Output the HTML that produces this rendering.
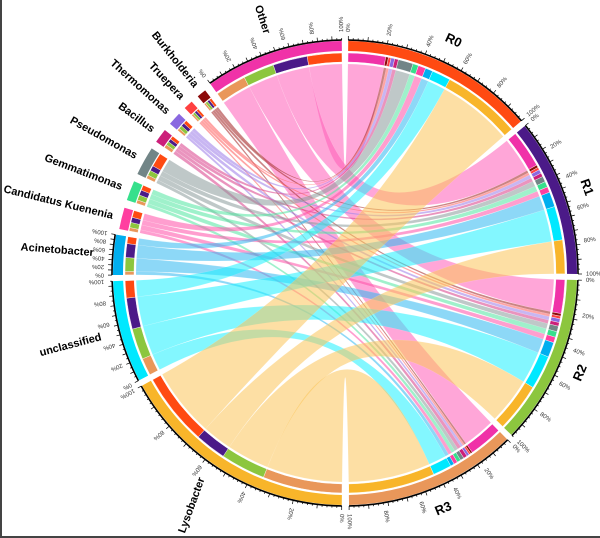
<!DOCTYPE html>
<html><head><meta charset="utf-8"><style>
html,body{margin:0;padding:0;background:#fff}
#w{width:600px;height:538px;box-sizing:border-box;border:2px solid #444;border-top:none;border-right:none;overflow:hidden}
svg{display:block}
</style></head><body><div id="w"><svg id="s" width="598" height="536" xmlns="http://www.w3.org/2000/svg"></svg></div>
<script>
const CX=343,CY=273;
const names=['R0','R1','R2','R3','Lysobacter','unclassified','Acinetobacter','Candidatus Kuenenia','Gemmatimonas','Pseudomonas','Bacillus','Thermomonas','Truepera','Burkholderia','Other'];
const col=['#ff4a12','#4b1a88','#8cc63e','#e9975a','#f8b52a','#00e8ff','#00aeef','#ff3fa0','#36e08c','#728587','#cc1f7a','#8a68e0','#ff4040','#8b0a0a','#f032a8'];
const rib=['#ff4a12','#4b1a88','#8cc63e','#e9975a','#fbc45a','#1ef0ff','#30b8f0','#ff4fa8','#50e6a0','#8a9a9a','#d83c88','#9a7ae8','#ff5a5a','#a01e1e','#ff5cb8'];
const M=[[21,9,13,23],[5,9,9,5],[2,4,4,1],[2,1.5,1.5,1],[1.5,1.5,1.5,1],[4,1.5,1.5,1],[1,1,1,1],[1,1,1,0.7],[0.7,0.7,0.7,0.5],[0.7,0.7,0.7,0.5],[10,10,9,9]];
const tot=[0,0,0,0];M.forEach(r=>r.forEach((v,i)=>tot[i]+=v));
const gt=M.map(r=>r.reduce((a,b)=>a+b,0));
const sizes=tot.concat(gt);
const gap=[1.5,1.5,1.5,1.5,1.5,1.5,1.5,2,2,2,2,2,2,2,2];
let st=[],en=[];
{const Ts=tot.reduce((a,b)=>a+b,0);const ks=(178.2-4.5)/Ts;let a=0.8;for(let i=0;i<4;i++){st[i]=a;en[i]=a+sizes[i]*ks;a=en[i]+1.5;}}
{const Tg=gt.reduce((a,b)=>a+b,0);const gsum=1.5*3+2*7;const kg=(359.2-180.8-gsum)/Tg;let a=180.8;for(let i=4;i<15;i++){st[i]=a;en[i]=a+sizes[i]*kg;a=en[i]+gap[i];}}
function P(r,d){const t=d*Math.PI/180;return [CX+r*Math.sin(t),CY-r*Math.cos(t)];}
function f(p){return p[0].toFixed(2)+' '+p[1].toFixed(2);}
function arcBand(r1,r2,a1,a2){const l=(a2-a1)>180?1:0;return 'M'+f(P(r2,a1))+'A'+r2+' '+r2+' 0 '+l+' 1 '+f(P(r2,a2))+'L'+f(P(r1,a2))+'A'+r1+' '+r1+' 0 '+l+' 0 '+f(P(r1,a1))+'Z';}
let out='';
const seg={};
for(let s=0;s<4;s++){let p=st[s];const sc=(en[s]-st[s])/tot[s];for(let g=10;g>=0;g--){const w=M[g][s]*sc;seg['s'+s+'g'+g]=[p,p+w];p+=w;}}
for(let g=0;g<11;g++){let p=st[g+4];const sc=(en[g+4]-st[g+4])/gt[g];for(let s=3;s>=0;s--){const w=M[g][s]*sc;seg['g'+g+'s'+s]=[p,p+w];p+=w;}}
const RR=209;
let ribs='';
for(let g=10;g>=0;g--){for(let s=0;s<4;s++){const A=seg['g'+g+'s'+s],B=seg['s'+s+'g'+g];
const d='M'+f(P(RR,A[0]))+'A'+RR+' '+RR+' 0 0 1 '+f(P(RR,A[1]))+'Q'+CX+' '+CY+' '+f(P(RR,B[0]))+'A'+RR+' '+RR+' 0 0 1 '+f(P(RR,B[1]))+'Q'+CX+' '+CY+' '+f(P(RR,A[0]))+'Z';
ribs+='<path d="'+d+'" fill="'+rib[g+4]+'" fill-opacity="0.55" stroke="#fff" stroke-opacity="0.3" stroke-width="0.3"/>';}}
out+=ribs;
for(const key in seg){const v=seg[key];let partner;
if(key[0]=='s'){partner=parseInt(key.split('g')[1])+4;}else{partner=parseInt(key.split('s')[1]);}
out+='<path d="'+arcBand(211,220,v[0],v[1])+'" fill="'+col[partner]+'" stroke="#fff" stroke-width="0.4"/>';}
for(let i=0;i<15;i++){const big=(i<7)||i==14;
out+='<path d="'+arcBand(big?222:221,big?232:230,st[i],en[i])+'" fill="'+col[i]+'"/>';
if(big){out+='<path d="M'+f(P(233,st[i]))+'A233 233 0 0 1 '+f(P(233,en[i]))+'" fill="none" stroke="#000" stroke-width="1.6"/>';
const n=Math.round((en[i]-st[i])/1.2);for(let j=0;j<=n;j++){const d=st[i]+(en[i]-st[i])*j/n;const L=(j%Math.max(1,Math.round(n/10))==0)?4:2;
const p1=P(233,d),p2=P(233+L,d);
out+='<line x1="'+p1[0].toFixed(1)+'" y1="'+p1[1].toFixed(1)+'" x2="'+p2[0].toFixed(1)+'" y2="'+p2[1].toFixed(1)+'" stroke="#000" stroke-width="0.7"/>';}
for(let j=0;j<=5;j++){const d=st[i]+(en[i]-st[i])*j/5;const p=P(241,d);
out+='<text x="'+p[0].toFixed(1)+'" y="'+p[1].toFixed(1)+'" font-size="6" fill="#333" font-family="Liberation Sans,sans-serif" transform="rotate('+(d-90)+' '+p[0].toFixed(1)+' '+p[1].toFixed(1)+')" dominant-baseline="middle">'+(j*20)+'%</text>';}}}
const F='font-family="Liberation Sans,sans-serif" font-weight="bold"';
for(let i=4;i<15;i++){const m=(st[i]+en[i])/2;const big=(i<7)||i==14;const r=big?252:239;let p=P(r,m);let rot=m-270;
if(i==4){p=[200,478];rot=-70;}
out+='<text x="'+p[0].toFixed(1)+'" y="'+p[1].toFixed(1)+'" font-size="11" '+F+' text-anchor="end" dominant-baseline="middle" transform="rotate('+rot.toFixed(1)+' '+p[0].toFixed(1)+' '+p[1].toFixed(1)+')">'+names[i]+'</text>';}
for(let i=0;i<4;i++){const m=(st[i]+en[i])/2;const p=P(256,m);let rot=m;if(m>90)rot=m-180;
out+='<text x="'+p[0].toFixed(1)+'" y="'+p[1].toFixed(1)+'" font-size="13" '+F+' text-anchor="middle" dominant-baseline="middle" transform="rotate('+rot.toFixed(1)+' '+p[0].toFixed(1)+' '+p[1].toFixed(1)+')">'+names[i]+'</text>';}
document.getElementById('s').innerHTML=out;
</script></body></html>
